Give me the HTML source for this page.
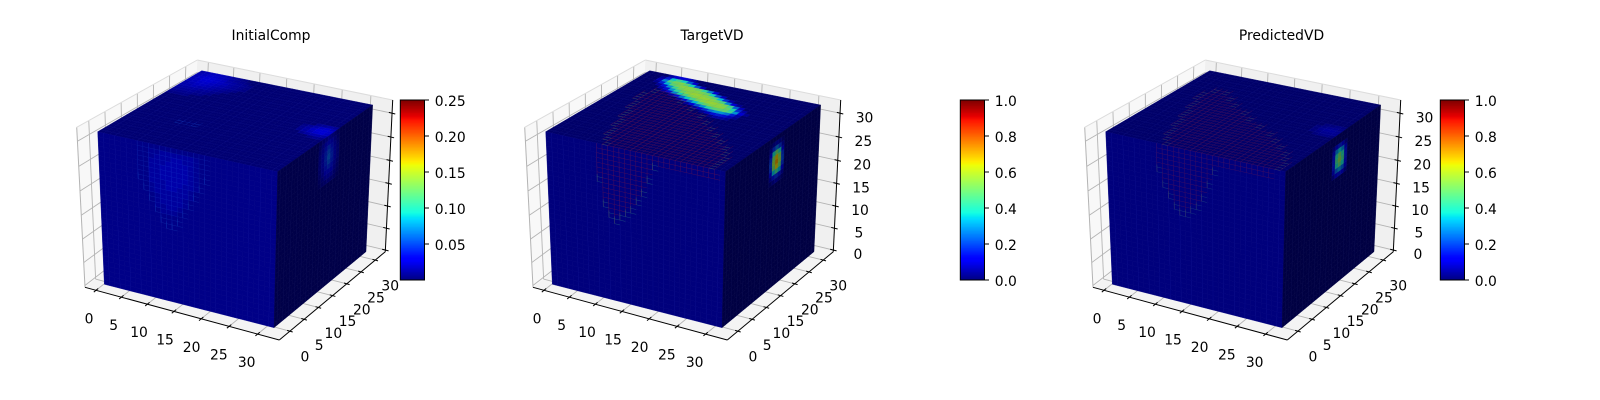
<!DOCTYPE html>
<html lang="en">
<head>
<meta charset="utf-8">
<title>InitialComp, TargetVD, PredictedVD</title>
<style>
html,body{margin:0;padding:0;background:#fff;width:1600px;height:400px;overflow:hidden}
svg{display:block}
text{font-family:"DejaVu Sans","Liberation Sans",sans-serif;font-size:13.89px;fill:#000}
</style>
</head>
<body>
<svg id="fig" xmlns="http://www.w3.org/2000/svg" width="1600" height="400" viewBox="0 0 1600 400">
<rect width="1600" height="400" fill="#fff"/>
</svg>
<script>
// ---- chart data ----
const panelTitles = ["InitialComp", "TargetVD", "PredictedVD"];
const axisTicks = [0, 5, 10, 15, 20, 25, 30];
const colorbarTicks1 = [0.05, 0.10, 0.15, 0.20, 0.25];
const colorbarLabels1 = ["0.05", "0.10", "0.15", "0.20", "0.25"];
const colorbarTicks2 = [0, 0.2, 0.4, 0.6, 0.8, 1];
const colorbarLabels2 = ["0.0", "0.2", "0.4", "0.6", "0.8", "1.0"];
const colorbarMax = [0.25, 1, 1];
const baseValues = [1, 0, 0];            // percent of the colour range

// hot cells: [row, startColumn, [percent values]]
const initialTop = [
 [31,0,[7,8,9,9,8,7,5,4,3]],[30,0,[8,9,10,10,9,8,6,5,4,3]],[29,0,[8,10,11,11,10,9,7,6,5,4,3]],
 [28,0,[8,9,11,11,10,9,8,6,5,4,3]],[27,0,[8,9,10,10,9,8,7,6,5,4,3]],[26,0,[7,8,9,9,8,7,6,5,4,3]],
 [25,0,[7,7,8,7,7,6,5,4,3]],[24,0,[6,6,6,6,5,5,4,3]],[23,0,[5,5,5,5,4,4,3]],[22,0,[4,4,4,4,3,3]],[21,0,[3,3,3,3]],
 [20,28,[4,5,6,5]],[19,26,[3,5,7,9,10,8]],[18,26,[4,6,9,11,12,10]],[17,26,[4,6,8,10,11,9]],
 [16,27,[4,6,7,7,6]],[15,29,[3,4,3]]
];
const initialLeft = [
 [30,9,[2,2,3,3,3,3,3,3,2]],[29,9,[2,3,3,3,4,4,3,3,2]],[28,9,[3,3,3,4,4,4,4,3,2]],[27,9,[3,3,4,4,4,4,4,3,2]],
 [26,9,[3,3,4,4,4,4,4,3,2]],[25,9,[3,3,4,4,4,4,4,3,2]],[24,9,[3,3,3,4,4,4,3,3,2]],[23,9,[2,3,3,4,4,3,3,2]],
 [22,9,[2,3,3,3,3,3,3,2]],[21,10,[2,3,3,3,3,2]],[20,10,[2,3,3,3,3,2]],[19,10,[2,2,3,3,2]],[18,11,[2,2,2]]
];
const initialRight = [
 [31,14,[3,5,7,9,7,5,3]],[30,14,[4,7,10,13,10,7,4]],[29,14,[5,8,14,18,14,8,5]],[28,14,[6,9,16,21,16,9,6]],
 [27,14,[6,9,17,23,17,9,6]],[26,14,[6,9,16,21,16,9,6]],[25,14,[5,8,14,17,14,8,5]],[24,14,[4,7,11,13,11,7,4]],
 [23,14,[3,5,8,9,8,5,3]],[22,14,[2,4,5,6,5,4,2]]
];
const targetTop = [
 [31,4,[6,10,12,10,6]],
 [30,3,[5,16,36,44,38,24,10]],
 [29,3,[8,28,46,52,54,48,38,22,8]],
 [28,3,[4,16,34,48,52,55,55,53,50,42,28,12]],
 [27,4,[5,14,30,44,52,55,55,55,53,50,38,22,8]],
 [26,5,[6,14,30,42,50,55,57,57,55,53,48,34,18,6]],
 [25,6,[6,14,28,38,46,53,55,57,57,55,52,46,28,12,4]],
 [24,8,[6,14,26,36,45,52,55,57,57,55,52,44,24,8]],
 [23,10,[6,14,24,34,44,50,54,55,55,50,40,18,6]],
 [22,12,[5,12,22,30,40,47,49,49,44,30,12,4]],
 [21,14,[5,10,18,26,30,30,26,16,6]],
 [20,16,[4,8,14,16,14,8,4]],
 [19,18,[3,6,6,4]]
];
const targetLeft = [];
const targetRight = [
 [30,15,[2,5,7,5,2]],[29,15,[6,18,25,18,6]],[28,15,[12,38,50,38,12]],[27,15,[18,52,68,52,18]],
 [26,15,[20,56,72,56,20]],[25,15,[18,50,66,50,18]],[24,15,[12,34,44,34,12]],
 [23,15,[6,14,18,14,6]],[22,15,[2,5,7,5,2]]
];
const predictedTop = [
 [20,28,[2,2,3,2]],[19,27,[2,3,4,4,3]],[18,27,[2,4,5,5,4]],[17,27,[2,3,4,4,4]],[16,28,[2,3,3,2]]
];
const predictedLeft = [];
const predictedRight = [
 [29,16,[5,12,16,12,5]],[28,16,[10,28,36,28,10]],[27,16,[14,40,50,40,14]],[26,16,[15,44,54,44,15]],
 [25,16,[14,38,48,38,14]],[24,16,[10,24,30,24,10]],[23,16,[5,12,14,12,5]]
];

// inner-structure wire lines, top face: [y, xStart, xEnd]
const targetTopCore = [[0,10,30],[2,9,30],[4,8,30],[6,8,29],[8,7,28],[10,7,26],[12,6,24],[14,6,22],[16,5,20],[18,5,18],[20,4,15],[22,4,12],[24,5,10]];
const predictedTopCore = [[0,10,31],[2,9,31],[4,8,30],[6,8,29],[8,7,27],[10,7,25],[12,6,23],[14,6,20],[16,5,17],[18,5,15],[20,4,12],[22,4,10],[24,5,8]];
const initialTopCore = [[10,8,12]];

// inner-structure wire lines, left face: [x, lowest z reached]
const targetLeftCore = [[9,24],[10,19],[11,17],[12,16],[13,17],[14,18],[15,19],[16,21],[17,23],[18,26],[19,29],[20,30],[21,30],[22,30],[23,30],[24,30],[25,30],[26,30],[27,30],[28,30],[29,30],[30,30]];
const predictedLeftCore = [[9,26],[10,23],[11,21],[12,19],[13,18],[14,18],[15,19],[16,20],[17,22],[18,25],[19,28],[20,30],[21,30],[22,30],[23,30],[24,30],[25,30],[26,30],[27,30],[28,30],[29,30]];
const initialLeftCore = [[7,24],[8,22],[9,20],[10,18],[11,16],[12,15],[13,15],[14,16],[15,18],[16,20],[17,22],[18,24],[19,26]];

// ---- layout ----
const NS = "http://www.w3.org/2000/svg";
const fig = document.getElementById("fig");
const GRID = 32;
const panels = [
 {dx:0, cbX:400.3, titleX:271, zLabels:false, top:initialTop, left:initialLeft, right:initialRight, topCore:initialTopCore, leftCore:initialLeftCore, inner:"rgba(20,80,220,.2)", edge:"rgba(30,110,220,.22)"},
 {dx:448, cbX:960.3, titleX:712, zLabels:true, top:targetTop, left:targetLeft, right:targetRight, topCore:targetTopCore, leftCore:targetLeftCore, inner:"rgba(150,20,50,.36)", edge:"rgba(50,150,130,.38)"},
 {dx:1008, cbX:1440.3, titleX:1281.5, zLabels:true, top:predictedTop, left:predictedLeft, right:predictedRight, topCore:predictedTopCore, leftCore:predictedLeftCore, inner:"rgba(130,20,60,.33)", edge:"rgba(50,130,130,.33)"}
];
const cube = {A:[201.7,70.7],B:[97.7,131.7],C:[372.7,105],D:[277.7,171.7],E:[104.3,284.3],F:[274,327.7],G:[366,251.7]};
const box = {T0:[197.3,60],TL:[76.7,127.3],TR:[392.7,100],BL:[85,287.3],BR:[385.3,251.7],BF:[279.3,340],BB:[191,205]};
const SHADE = {top:0.82, left:0.97, right:0.52};

// ---- scales ----
const xFrac = v => 0.0566 + 0.02578*v + 0.0000648*v*v;
const yFrac = v => 0.10 + 0.02683*v;
const zFrac = v => 0.011 + 0.02847*v + 0.0000533*v*v;
const lerp = (p,q,t) => [p[0]+(q[0]-p[0])*t, p[1]+(q[1]-p[1])*t];
const bilinear = (q,u,v) => lerp(lerp(q[0],q[1],u), lerp(q[3],q[2],u), v);
const floorQuad = [box.BL,box.BF,box.BR,box.BB];
const backRightQuad = [box.BB,box.BR,box.TR,box.T0];
const backLeftQuad = [box.BL,box.BB,box.T0,box.TL];
const topQuad = [cube.B,cube.D,cube.C,cube.A];
const leftQuad = [cube.E,cube.F,cube.D,cube.B];
const rightQuad = [cube.F,cube.G,cube.C,cube.D];

function seg(t){return t<0?0:t>1?1:t}
function jet(v){
  v = seg(v);
  const pw = pts => { for(let i=1;i<pts.length;i++){ if(v<=pts[i][0]){ const a=pts[i-1],b=pts[i]; return a[1]+(b[1]-a[1])*(v-a[0])/(b[0]-a[0]); } } return pts[pts.length-1][1]; };
  const r = pw([[0,0],[0.35,0],[0.66,1],[0.89,1],[1,0.5]]);
  const g = pw([[0,0],[0.125,0],[0.375,1],[0.64,1],[0.91,0],[1,0]]);
  const b = pw([[0,0.5],[0.11,1],[0.34,1],[0.65,0],[1,0]]);
  return [r*255,g*255,b*255];
}
function rgb(c,s){return "rgb("+Math.round(c[0]*s)+","+Math.round(c[1]*s)+","+Math.round(c[2]*s)+")"}
function buildField(base,rows){
  const f=[]; for(let r=0;r<GRID;r++){ f.push(new Array(GRID).fill(base)); }
  rows.forEach(row=>{ row[2].forEach((val,i)=>{ const c=row[1]+i; if(c<GRID && row[0]<GRID){ f[row[0]][c]=Math.max(base,val); } }); });
  return f;
}
function mk(tag,attrs,parent){
  const el=document.createElementNS(NS,tag);
  for(const k in attrs){ el.setAttribute(k,attrs[k]); }
  parent.appendChild(el);
  return el;
}
function line(p,q,stroke,w,parent,name){
  const el=mk("line",{x1:p[0].toFixed(2),y1:p[1].toFixed(2),x2:q[0].toFixed(2),y2:q[1].toFixed(2),stroke:stroke,"stroke-width":w},parent);
  
  
  return el;
}
function poly(pts,fill,parent,name){
  const el=mk("polygon",{points:pts.map(p=>p[0].toFixed(2)+","+p[1].toFixed(2)).join(" "),fill:fill},parent);
  
  
  return el;
}
function label(x,y,str,anchor,parent,name){
  const el=mk("text",{x:x.toFixed(2),y:y.toFixed(2),"text-anchor":anchor},parent);
  el.textContent=str;
  
  
  return el;
}
function drawFace(field,quad,shade,name,parent){
  const vmaxStep=1/GRID;
  for(let r=0;r<GRID;r++){ for(let c=0;c<GRID;c++){
    const col=rgb(jet(field[r][c]/100),shade);
    const pts=[bilinear(quad,c*vmaxStep,r*vmaxStep),bilinear(quad,(c+1)*vmaxStep,r*vmaxStep),bilinear(quad,(c+1)*vmaxStep,(r+1)*vmaxStep),bilinear(quad,c*vmaxStep,(r+1)*vmaxStep)];
    const el=poly(pts,col,parent,name);
    el.setAttribute("stroke",col);
    el.setAttribute("stroke-width","0.35");
  }}
}
function drawPanel(p,idx){
  const g=mk("g",{transform:"translate("+p.dx+",0)"},fig);
  
  

  poly(backLeftQuad,"#f8f8f8",g,"left-wall-pane");
  poly(backRightQuad,"#f0f0f0",g,"right-wall-pane");
  poly(floorQuad,"#f4f4f4",g,"floor-pane");

  // gridlines
  const GC="#b4b4b4";
  axisTicks.forEach(v=>{
    line(bilinear(floorQuad,xFrac(v),0),bilinear(floorQuad,xFrac(v),1),GC,0.9,g,"x-gridline-floor");
    line(bilinear(backRightQuad,xFrac(v),0),bilinear(backRightQuad,xFrac(v),1),GC,0.9,g,"x-gridline-wall");
    line(bilinear(floorQuad,0,yFrac(v)),bilinear(floorQuad,1,yFrac(v)),GC,0.9,g,"y-gridline-floor");
    line(bilinear(backLeftQuad,yFrac(v),0),bilinear(backLeftQuad,yFrac(v),1),GC,0.9,g,"y-gridline-wall");
    line(bilinear(backLeftQuad,0,zFrac(v)),bilinear(backLeftQuad,1,zFrac(v)),GC,0.9,g,"z-gridline-left");
    line(bilinear(backRightQuad,0,zFrac(v)),bilinear(backRightQuad,1,zFrac(v)),GC,0.9,g,"z-gridline-right");
  });
  line(box.TL,box.BL,GC,1,g,"left-pane-edge");
  line(box.TL,box.T0,"#dcdcdc",1,g,"top-left-pane-edge");
  line(box.T0,box.TR,"#dcdcdc",1,g,"top-right-pane-edge");

  // axis lines and ticks
  line(box.BL,box.BF,"#000",1,g,"x-axis-line");
  line(box.BF,box.BR,"#000",1,g,"y-axis-line");
  line(box.BR,box.TR,"#000",1,g,"z-axis-line");
  axisTicks.forEach((v,i)=>{
    const xp=lerp(box.BL,box.BF,xFrac(v));
    line([xp[0]-2.2,xp[1]+1.8],[xp[0]+2.2,xp[1]-1.8],"#000",1,g,"x-tick");
    label(xp[0]-7-v*0.13,xp[1]+33,String(v),"middle",g,"x-tick-label");
    const yp=lerp(box.BF,box.BR,yFrac(v));
    line([yp[0]-2.8,yp[1]-0.8],[yp[0]+2.8,yp[1]+0.8],"#000",1,g,"y-tick");
    label(yp[0]+15,yp[1]+30.5,String(v),"middle",g,"y-tick-label");
    const zp=lerp(box.BR,box.TR,zFrac(v));
    line([zp[0]-3.2,zp[1]-0.8],[zp[0]+3.2,zp[1]+0.8],"#000",1,g,"z-tick");
    if(p.zLabels){ label(zp[0]+24.5,zp[1]+9.2,String(v),"middle",g,"z-tick-label"); }
  });

  // voxel cube faces
  const base=baseValues[idx];
  const cubeG=mk("g",{},g);
  
  
  drawFace(buildField(base,p.top),topQuad,SHADE.top,"top-face-cell",cubeG);
  drawFace(buildField(base,p.left),leftQuad,SHADE.left,"left-face-cell",cubeG);
  drawFace(buildField(base,p.right),rightQuad,SHADE.right,"right-face-cell",cubeG);

  // faint voxel seams
  for(let k=1;k<GRID;k+=2){
    line(bilinear(leftQuad,k/GRID,0),bilinear(leftQuad,k/GRID,1),"rgba(50,70,230,.10)",0.6,cubeG,"left-face-seam");
    line(bilinear(rightQuad,k/GRID,0),bilinear(rightQuad,k/GRID,1),"rgba(60,70,170,.09)",0.6,cubeG,"right-face-seam");
    line(bilinear(topQuad,k/GRID,0),bilinear(topQuad,k/GRID,1),"rgba(50,70,230,.08)",0.6,cubeG,"top-face-seam");
    line(bilinear(topQuad,0,k/GRID),bilinear(topQuad,1,k/GRID),"rgba(50,70,230,.08)",0.6,cubeG,"top-face-seam");
  }

  // inner-structure wire lines: top face
  p.topCore.forEach(row=>{
    const y=row[0],a=row[1],b=row[2];
    for(let yy=y;yy<y+2;yy++){
      line(bilinear(topQuad,a/GRID,yy/GRID),bilinear(topQuad,b/GRID,yy/GRID),p.inner,0.55,cubeG,"top-core-line");
      line(bilinear(topQuad,a/GRID,yy/GRID),bilinear(topQuad,(a+1)/GRID,yy/GRID),p.edge,0.6,cubeG,"top-core-edge");
      line(bilinear(topQuad,(b-1)/GRID,yy/GRID),bilinear(topQuad,b/GRID,yy/GRID),p.edge,0.6,cubeG,"top-core-edge");
    }
    for(let x=a;x<=b;x+=1){
      line(bilinear(topQuad,x/GRID,y/GRID),bilinear(topQuad,x/GRID,(y+2)/GRID),p.inner,0.55,cubeG,"top-core-line");
    }
  });
  // inner-structure wire lines: left face
  p.leftCore.forEach(col=>{
    const x=col[0],zb=col[1];
    const shallow=zb>=30;
    line(bilinear(leftQuad,x/GRID,zb/GRID),bilinear(leftQuad,x/GRID,1),p.inner,0.6,cubeG,"left-core-line");
    if(!shallow){
      line(bilinear(leftQuad,x/GRID,zb/GRID),bilinear(leftQuad,x/GRID,(zb+1.5)/GRID),p.edge,0.7,cubeG,"left-core-edge");
    }
    for(let z=Math.ceil(zb);z<GRID;z+=1){
      line(bilinear(leftQuad,x/GRID,z/GRID),bilinear(leftQuad,(x+1)/GRID,z/GRID),(z<zb+2&&!shallow)?p.edge:p.inner,0.55,cubeG,"left-core-line");
    }
  });

  const tt=label(p.titleX-p.dx,40,panelTitles[idx],"middle",g,"panel-title");
  tt.setAttribute("style","font-size:13.89px");
}
function drawColorbar(p,idx){
  const ticks=idx===0?colorbarTicks1:colorbarTicks2;
  const labels=idx===0?colorbarLabels1:colorbarLabels2;
  const vmax=colorbarMax[idx];
  const top=100,bottom=280,w=24.2;
  const cbY=v=>bottom-(v/vmax)*(bottom-top);
  const g=mk("g",{},fig);
  
  
  const LEVELS=128;
  for(let i=0;i<LEVELS;i++){
    const y0=bottom-(i+1)/LEVELS*(bottom-top);
    const r=mk("rect",{x:p.cbX,y:y0.toFixed(2),width:w,height:((bottom-top)/LEVELS+0.4).toFixed(2),fill:rgb(jet((i+0.5)/LEVELS),1)},g);
    
    
  }
  const o=mk("rect",{x:p.cbX,y:top,width:w,height:bottom-top,fill:"none",stroke:"#000","stroke-width":1},g);
  
  
  ticks.forEach((v,i)=>{
    const y=cbY(v);
    line([p.cbX+w,y],[p.cbX+w+4.5,y],"#000",1,g,"colorbar-tick");
    label(p.cbX+w+10.3,y+6,labels[i],"start",g,"colorbar-tick-label");
  });
}
panels.forEach(drawPanel);
panels.forEach(drawColorbar);
</script>
</body>
</html>
